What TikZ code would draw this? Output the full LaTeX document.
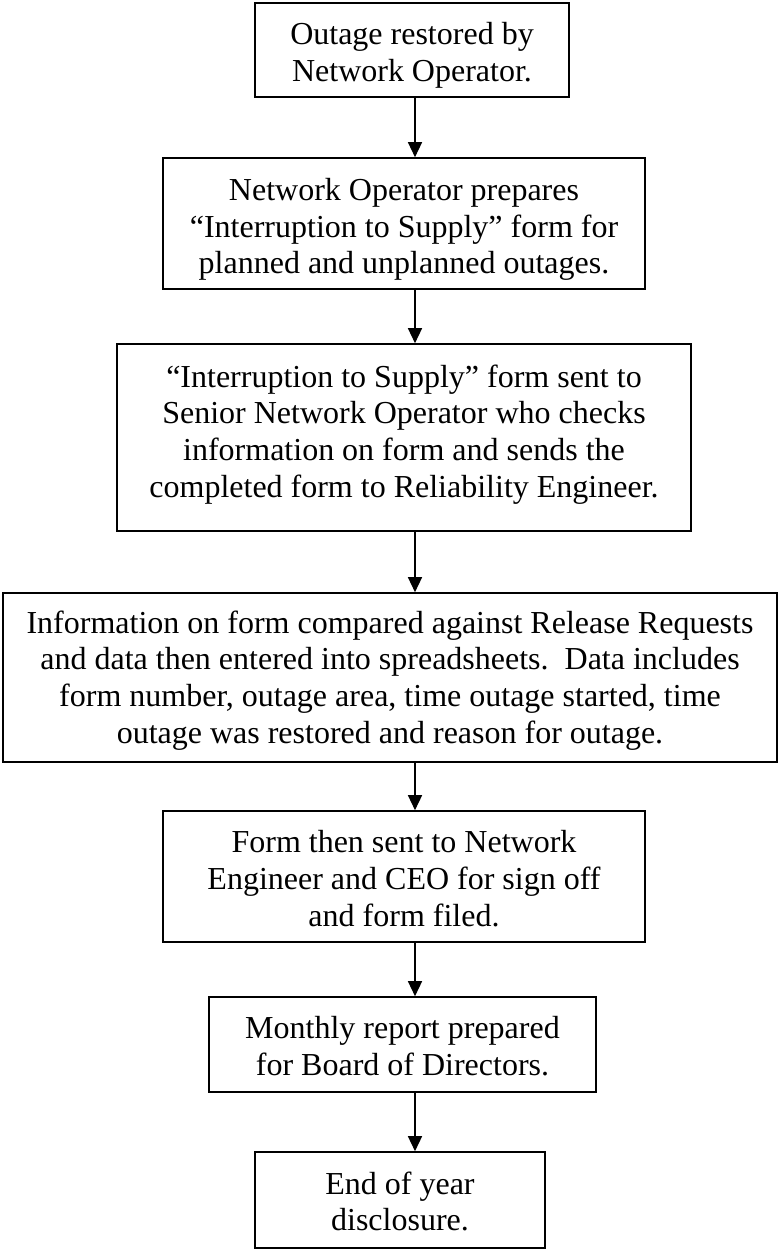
\documentclass[tikz,border=0pt]{standalone}
\usepackage{fontspec}
\setmainfont{Liberation Serif}
\usetikzlibrary{arrows.meta}
\tikzset{
  box/.style={draw=black, line width=1.6pt, fill=white, inner sep=0pt},
  txt/.style={align=center, inner sep=0pt, font=\fontsize{32}{36.8}\selectfont},
  arr/.style={line width=1.4pt, -{Triangle[length=15pt,width=14pt]}}
}
\begin{document}
\begin{tikzpicture}[x=1pt,y=-1pt]
\useasboundingbox[fill=white] (0,0) rectangle (779,1249);
\coordinate (ax) at (415,0);
% frames
\node[box, minimum width=314pt, minimum height=94pt] (b1) at (412,50) {};
\node[box, minimum width=482pt, minimum height=131pt] (b2) at (404,223.5) {};
\node[box, minimum width=574pt, minimum height=187pt] (b3) at (404,437.5) {};
\node[box, minimum width=774pt, minimum height=169pt] (b4) at (390,677.5) {};
\node[box, minimum width=482pt, minimum height=131pt] (b5) at (404,876.5) {};
\node[box, minimum width=387pt, minimum height=95pt] (b6) at (402.5,1044.5) {};
\node[box, minimum width=290pt, minimum height=96pt] (b7) at (400,1200) {};
% texts
\node[txt] (t1) at (412,55) {Outage restored by\\Network Operator.};
\node[txt] (t2) at (404,229.5) {Network Operator prepares\\“Interruption to Supply” form for\\planned and unplanned outages.};
\node[txt] (t3) at (404,434.5) {“Interruption to Supply” form sent to\\Senior Network Operator who checks\\information on form and sends the\\completed form to Reliability Engineer.};
\node[txt] (t4) at (390,680.5) {Information on form compared against Release Requests\\and data then entered into spreadsheets.\ \ Data includes\\form number, outage area, time outage started, time\\outage was restored and reason for outage.};
\node[txt] (t5) at (404,878.5) {Form then sent to Network\\Engineer and CEO for sign off\\and form filed.};
\node[txt] (t6) at (402.5,1046) {Monthly report prepared\\for Board of Directors.};
\node[txt] (t7) at (400,1201.5) {End of year\\disclosure.};
% connectors
\draw[arr] (b1.south -| ax) -- (b2.north -| ax);
\draw[arr] (b2.south -| ax) -- (b3.north -| ax);
\draw[arr] (b3.south -| ax) -- (b4.north -| ax);
\draw[arr] (b4.south -| ax) -- (b5.north -| ax);
\draw[arr] (b5.south -| ax) -- (b6.north -| ax);
\draw[arr] (b6.south -| ax) -- (b7.north -| ax);
\end{tikzpicture}
\end{document}
